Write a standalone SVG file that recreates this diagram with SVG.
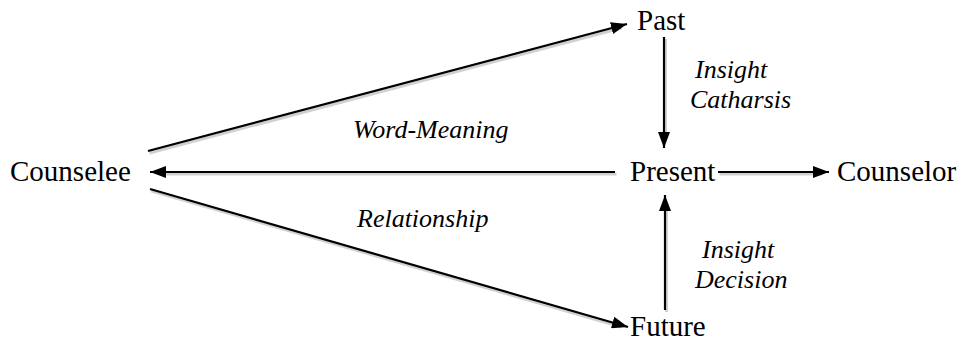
<svg xmlns="http://www.w3.org/2000/svg" width="959" height="342" viewBox="0 0 959 342">
  <defs>
    <marker id="arrow" viewBox="0 0 16 12" refX="16" refY="6" markerWidth="16" markerHeight="12" markerUnits="userSpaceOnUse" orient="auto">
      <path d="M0,0 L16,6 L0,12 z" fill="#000"/>
    </marker>
  </defs>
  <rect width="959" height="342" fill="#fff"/>

  <!-- faint offset copy of the arrows as a soft shadow -->
  <g stroke="#000" stroke-opacity="0.18" stroke-width="3" fill="none" transform="translate(1.5,2)">
    <path d="M148,151 L620,26 M615,172 L158,172 M150,189 L620,325 M664,37 L664,140 M665,310 L665,203 M718,172 L821,172"/>
  </g>

  <g id="connectors" stroke="#000" stroke-width="2.2" fill="none">
    <line x1="148" y1="151" x2="627" y2="24" marker-end="url(#arrow)"/>
    <line x1="615" y1="172" x2="150" y2="172" marker-end="url(#arrow)"/>
    <line x1="150" y1="189" x2="628" y2="327" marker-end="url(#arrow)"/>
    <line x1="664" y1="37" x2="664" y2="148" marker-end="url(#arrow)"/>
    <line x1="665" y1="310" x2="665" y2="195" marker-end="url(#arrow)"/>
    <line x1="718" y1="172" x2="829" y2="172" marker-end="url(#arrow)"/>
  </g>

  <g id="counselee"><text x="10" y="181" font-family="Liberation Serif, serif" font-size="29">Counselee</text></g>
  <g id="past"><text x="637" y="30" font-family="Liberation Serif, serif" font-size="29">Past</text></g>
  <g id="present"><text x="630" y="181" font-family="Liberation Serif, serif" font-size="29">Present</text></g>
  <g id="counselor"><text x="837" y="181" font-family="Liberation Serif, serif" font-size="29">Counselor</text></g>
  <g id="future"><text x="630" y="336" font-family="Liberation Serif, serif" font-size="29">Future</text></g>

  <g id="labels" font-family="Liberation Serif, serif" font-size="26" font-style="italic">
    <text x="353" y="138">Word-Meaning</text>
    <text x="357" y="227">Relationship</text>
    <text x="695" y="78">Insight</text>
    <text x="690" y="108">Catharsis</text>
    <text x="702" y="258">Insight</text>
    <text x="695" y="288">Decision</text>
  </g>
</svg>
